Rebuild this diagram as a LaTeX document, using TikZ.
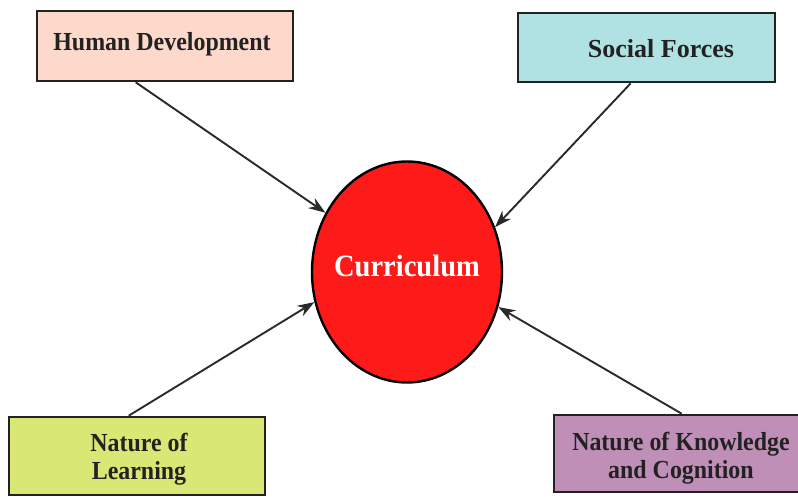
\documentclass[tikz,border=0pt]{standalone}
\usepackage{fontspec}
\setmainfont{Liberation Serif}
\newfontfamily\condfont[FakeStretch=0.92]{Liberation Serif}
\usetikzlibrary{arrows.meta,shapes.geometric,calc}
\definecolor{hdfill}{HTML}{FDD9CB}
\definecolor{sffill}{HTML}{B0E2E3}
\definecolor{nlfill}{HTML}{D9E874}
\definecolor{nkfill}{HTML}{BF8FB8}
\definecolor{curfill}{HTML}{FF1A1A}
\definecolor{edgecol}{HTML}{222222}
\definecolor{arrcol}{HTML}{2A2A2A}
\tikzset{
  box/.style={draw=edgecol, line width=2.6pt, rectangle, inner sep=0pt},
  lbl/.style={font=\condfont\fontsize{26}{28}\selectfont\bfseries, text=edgecol, align=center, inner sep=0pt},
  conn/.style={draw=arrcol, line width=1.9pt, -{Stealth[length=17pt,width=12pt]}}
}
\begin{document}
\begin{tikzpicture}[x=1pt,y=-1pt]
\useasboundingbox (0,0) rectangle (798,496);
\clip (0,0) rectangle (798,496);
\fill[white] (0,0) rectangle (798,496);
% boxes
\node[box, fill=hdfill, minimum width=256pt, minimum height=70pt] (hd) at (165,46) {};
\node[box, fill=sffill, minimum width=257pt, minimum height=69pt] (sf) at (646.5,47.5) {};
\node[box, fill=nlfill, minimum width=256pt, minimum height=78pt] (nl) at (137,456) {};
\node[box, fill=nkfill, minimum width=256pt, minimum height=77pt] (nk) at (682,453.5) {};
% labels
\node[lbl] (hdt) at (162,44) {Human Development};
\node[lbl, font=\fontsize{26}{28}\selectfont\bfseries] (sft) at (661,49) {Social Forces};
\node[lbl] (nlt) at (139,459) {Nature of\\Learning};
\node[lbl] (nkt) at (681,458.5) {Nature of Knowledge\\and Cognition};
% ellipse
\node[ellipse, draw=black, line width=2.4pt, fill=curfill, minimum width=190pt, minimum height=221pt, inner sep=0pt] (cur) at (407,272) {};
\node[font=\condfont\fontsize{31}{34}\selectfont\bfseries, text=white, inner sep=0pt] (curt) at (407,266) {Curriculum};
% connectors
\draw[conn] ($(hd.south west)+(100,0)$) -- (cur.144);
\draw[conn] ($(sf.south west)+(114,0)$) -- (cur.27);
\draw[conn] ($(nl.north west)+(121,0)$) -- (cur.198);
\draw[conn] ($(nk.north west)+(129,0)$) -- (cur.-21);
\end{tikzpicture}
\end{document}
